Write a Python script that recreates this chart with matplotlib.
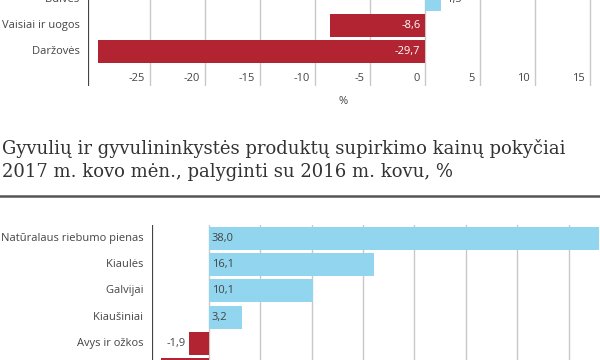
import matplotlib
matplotlib.use("Agg")
from matplotlib import pyplot as plt
from matplotlib import transforms

# top chart (cropped): crop products
crop_labels = ["Daržovės", "Vaisiai ir uogos", "Bulvės"]
crop_values = [-29.7, -8.6, 1.5]
crop_ticks = [-25, -20, -15, -10, -5, 0, 5, 10, 15]

# bottom chart: livestock products (last row is cut by the frame, its label is not visible)
live_labels = ["Natūralaus riebumo pienas", "Kiaulės", "Galvijai", "Kiaušiniai", "Avys ir ožkos", ""]
live_values = [38.0, 16.1, 10.1, 3.2, -1.9, -4.7]
live_ticks = [5, 10, 15, 20, 25, 30, 35]

title = "Gyvulių ir gyvulininkystės produktų supirkimo kainų pokyčiai\n2017 m. kovo mėn., palyginti su 2016 m. kovu, %"

BLUE = "#92d5ef"
RED = "#b22432"
TEXT = "#444444"
GRID = "#c8c8c8"
W, H = 600, 360

plt.rcParams["font.family"] = ["Open Sans", "DejaVu Sans"]


def fmt(v):
    return f"{v:.1f}".replace(".", ",")


def px_axes(fig, left, right, top, bottom):
    # pixel box (y from top) -> figure axes
    return fig.add_axes([left / W, 1 - bottom / H, (right - left) / W, (bottom - top) / H])


def clean(ax):
    for s in ax.spines.values():
        s.set_visible(False)
    ax.set_xticks([])
    ax.set_yticks([])
    ax.patch.set_alpha(0)


fig = plt.figure(figsize=(6, 3.6), dpi=100)

# ---- top chart ----
ax1 = px_axes(fig, 88, 600, -40, 86)
x0, x1 = -30.6, 15.9
ax1.set_xlim(x0, x1)
ax1.set_ylim(-1.33, 3.52)
clean(ax1)
for t in crop_ticks:
    ax1.axvline(t, color=GRID, lw=1, zorder=0)
ax1.axvline(x0, color="#444444", lw=1.6, zorder=3)
ax1.barh(range(len(crop_values)), crop_values, height=0.88,
         color=[RED if v < 0 else BLUE for v in crop_values], zorder=2)
for i, (lab, v) in enumerate(zip(crop_labels, crop_values)):
    ax1.text(x0, i, lab + "   ", ha="right", va="center", fontsize=8, color=TEXT)
    if v < 0:
        ax1.text(-0.4, i, fmt(v), ha="right", va="center", fontsize=8, color="white")
    else:
        ax1.text(v + 0.4, i, fmt(v), ha="left", va="center", fontsize=8, color=TEXT)
tick_off = transforms.offset_copy(ax1.transData, fig=fig, x=-5, y=0, units="dots")
for t in crop_ticks:
    ax1.text(t, -1.05, str(t), ha="right", va="center", fontsize=8, color=TEXT,
             transform=tick_off)
fig.text(343 / W, 1 - 101 / H, "%", ha="center", va="center", fontsize=8, color=TEXT)

# ---- title + divider ----
fig.text(2 / W, 1 - 160 / H, title, ha="left", va="center", fontsize=13,
         family="DejaVu Serif", color="#333333", linespacing=1.3)
fig.add_artist(plt.Line2D([0, 1], [1 - 196.5 / H, 1 - 196.5 / H], color="#555555", lw=1.8))

# ---- bottom chart ----
ax2 = px_axes(fig, 152, 620, 225, 420)
ax2.set_xlim(-5.53, 40)
n = len(live_values)
pitch = 26.2
ax2.set_ylim(-(420 - 238.5) / pitch, (238.5 - 225) / pitch)
clean(ax2)
pos = [-i for i in range(n)]
for t in [0] + live_ticks:
    ax2.axvline(t, color=GRID, lw=1, zorder=0)
ax2.axvline(-5.53, color="#444444", lw=1.6, zorder=3)
ax2.barh(pos, live_values, height=0.88,
         color=[RED if v < 0 else BLUE for v in live_values], zorder=2)
for p, lab, v in zip(pos, live_labels, live_values):
    if not lab:
        continue
    ax2.text(-5.53, p, lab + "   ", ha="right", va="center", fontsize=8, color=TEXT)
    if v < 0:
        ax2.text(v - 0.4, p, fmt(v), ha="right", va="center", fontsize=8, color=TEXT)
    else:
        ax2.text(0.3, p, fmt(v), ha="left", va="center", fontsize=8, color=TEXT)

fig.savefig("out.png", dpi=100)
